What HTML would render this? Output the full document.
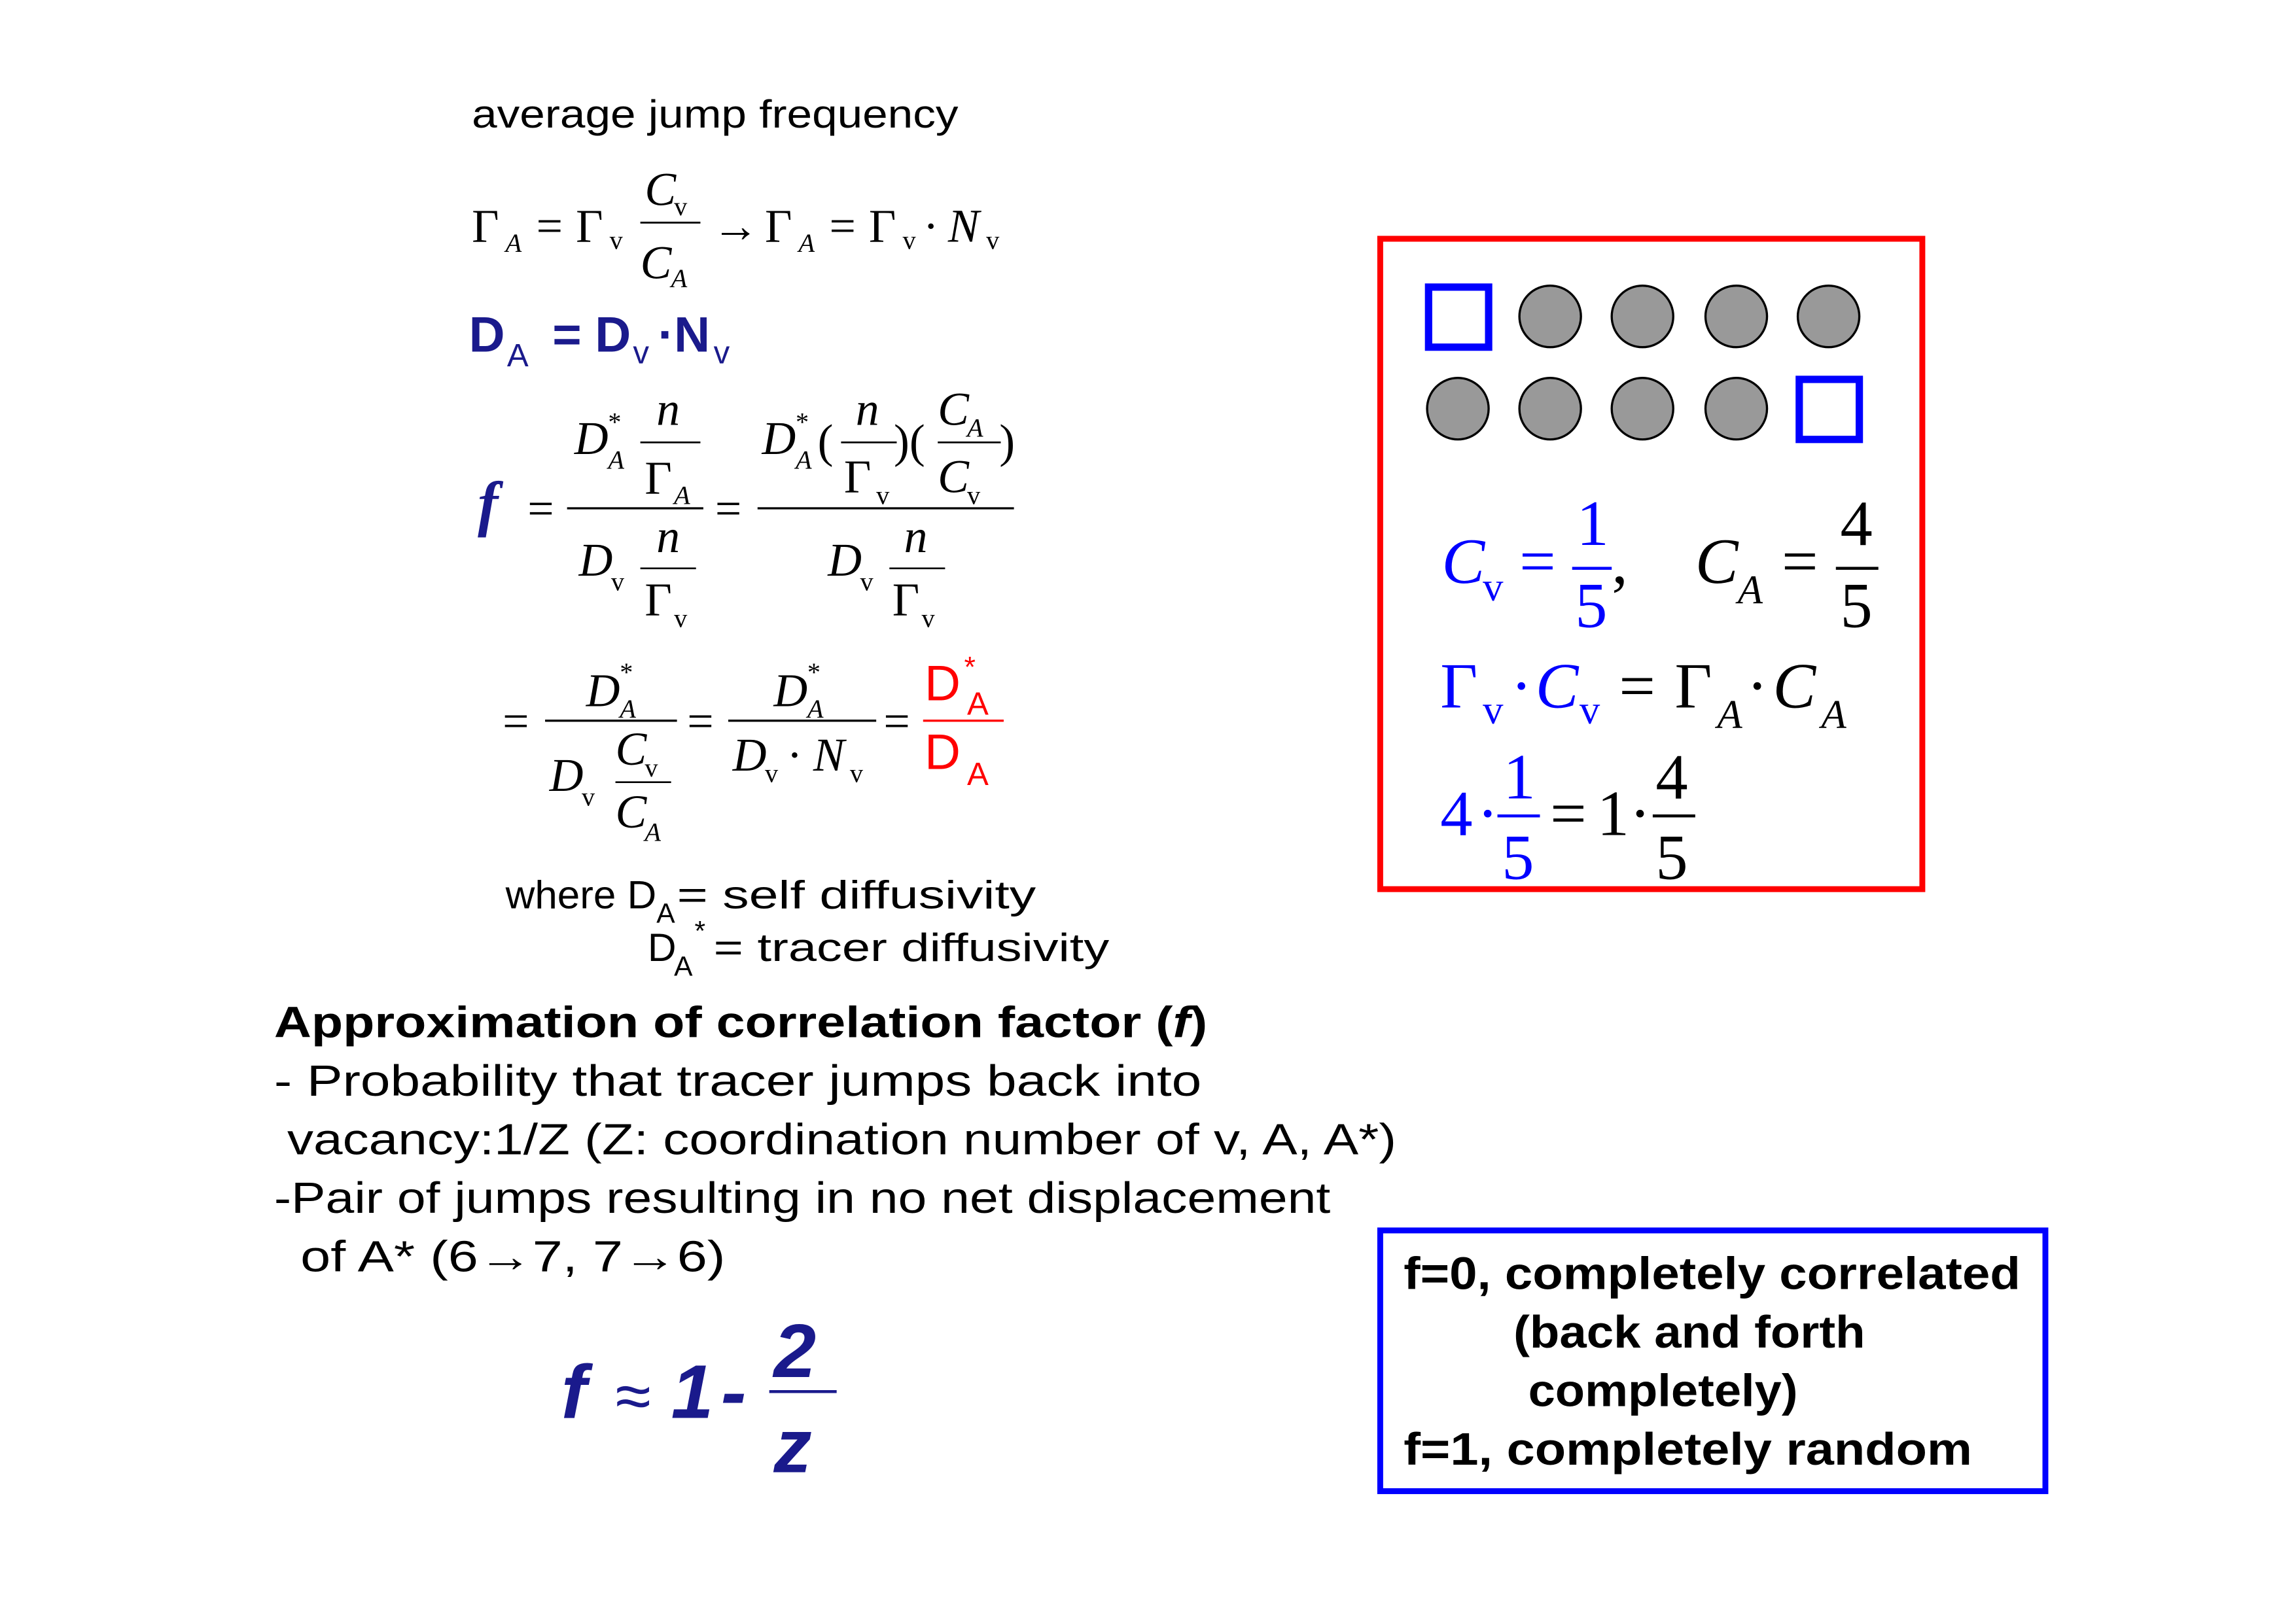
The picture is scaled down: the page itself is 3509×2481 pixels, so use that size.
<!DOCTYPE html>
<html><head><meta charset="utf-8"><style>
html,body{margin:0;padding:0;background:#fff;}
svg{display:block;}
.s{font-family:"Liberation Sans",sans-serif;}
.t{font-family:"Liberation Serif",serif;}
</style></head><body>
<svg width="3509" height="2481" viewBox="0 0 1567 1108" xmlns="http://www.w3.org/2000/svg">
<rect width="1567" height="1108" fill="#fff"/>
<g class="s" font-size="27" fill="#000">
<text x="322" y="87" textLength="332" lengthAdjust="spacingAndGlyphs">average jump frequency</text>
</g>
<g class="t" font-size="32" fill="#000">
<text x="322" y="165">Γ</text><text x="345" y="172" font-size="18" font-style="italic">A</text>
<text x="366" y="165">=</text>
<text x="393" y="165">Γ</text><text x="416" y="170" font-size="18">v</text>
<text x="440" y="140" font-style="italic">C</text><text x="460" y="147" font-size="18">v</text>
<line x1="437" y1="152" x2="478" y2="152" stroke="#000" stroke-width="1.3"/>
<text x="437" y="190" font-style="italic">C</text><text x="458" y="196" font-size="18" font-style="italic">A</text>
<text x="486" y="165">→</text>
<text x="522" y="165">Γ</text><text x="545" y="172" font-size="18" font-style="italic">A</text>
<text x="566" y="165">=</text>
<text x="593" y="165">Γ</text><text x="616" y="170" font-size="18">v</text>
<text x="630" y="165">·</text>
<text x="647" y="165" font-style="italic">N</text><text x="673" y="170" font-size="18">v</text>
</g>
<g class="s" fill="#1a1a8c" font-size="34" font-weight="bold">
<text x="320" y="240">D</text><text x="346" y="250" font-size="22" font-weight="normal">A</text>
<text x="377" y="240">=</text>
<text x="406" y="240">D</text><text x="432" y="248" font-size="22" font-weight="normal">v</text>
<text x="449" y="240">·</text>
<text x="460" y="240">N</text><text x="487" y="248" font-size="22" font-weight="normal">v</text>
</g>
<text x="326" y="358" class="t" font-size="42" font-style="italic" font-weight="bold" fill="#1a1a8c">f</text>
<g class="t" font-size="32" fill="#000">
<text x="360" y="358">=</text>
<line x1="387" y1="347" x2="480" y2="347" stroke="#000" stroke-width="1.5"/>
<text x="392" y="310" font-style="italic">D</text><text x="415" y="294" font-size="18">*</text><text x="415" y="320" font-size="18" font-style="italic">A</text>
<text x="448" y="290" font-style="italic">n</text>
<line x1="437" y1="302" x2="478" y2="302" stroke="#000" stroke-width="1.2"/>
<text x="440" y="337">Γ</text><text x="460" y="344" font-size="18" font-style="italic">A</text>
<text x="395" y="393" font-style="italic">D</text><text x="417" y="403" font-size="18">v</text>
<text x="448" y="377" font-style="italic">n</text>
<line x1="437" y1="388" x2="475" y2="388" stroke="#000" stroke-width="1.2"/>
<text x="440" y="420">Γ</text><text x="460" y="428" font-size="18">v</text>
<text x="488" y="358">=</text>
<line x1="517" y1="347" x2="692" y2="347" stroke="#000" stroke-width="1.5"/>
<text x="520" y="310" font-style="italic">D</text><text x="543" y="294" font-size="18">*</text><text x="543" y="320" font-size="18" font-style="italic">A</text>
<text x="558" y="312">(</text>
<text x="584" y="290" font-style="italic">n</text>
<line x1="574" y1="302" x2="612" y2="302" stroke="#000" stroke-width="1.2"/>
<text x="576" y="336">Γ</text><text x="598" y="344" font-size="18">v</text>
<text x="610" y="312">)(</text>
<text x="640" y="290" font-style="italic">C</text><text x="660" y="298" font-size="18" font-style="italic">A</text>
<line x1="640" y1="302" x2="683" y2="302" stroke="#000" stroke-width="1.2"/>
<text x="640" y="336" font-style="italic">C</text><text x="660" y="344" font-size="18">v</text>
<text x="682" y="312">)</text>
<text x="565" y="393" font-style="italic">D</text><text x="587" y="403" font-size="18">v</text>
<text x="617" y="377" font-style="italic">n</text>
<line x1="607" y1="388" x2="645" y2="388" stroke="#000" stroke-width="1.2"/>
<text x="609" y="420">Γ</text><text x="629" y="428" font-size="18">v</text>
<text x="343" y="503">=</text>
<line x1="372" y1="492" x2="462" y2="492" stroke="#000" stroke-width="1.5"/>
<text x="400" y="482" font-style="italic">D</text><text x="423" y="465" font-size="18">*</text><text x="423" y="490" font-size="18" font-style="italic">A</text>
<text x="375" y="540" font-style="italic">D</text><text x="397" y="550" font-size="18">v</text>
<text x="420" y="522" font-style="italic">C</text><text x="440" y="530" font-size="18">v</text>
<line x1="420" y1="534" x2="458" y2="534" stroke="#000" stroke-width="1.2"/>
<text x="420" y="565" font-style="italic">C</text><text x="440" y="574" font-size="18" font-style="italic">A</text>
<text x="469" y="503">=</text>
<line x1="497" y1="492" x2="598" y2="492" stroke="#000" stroke-width="1.5"/>
<text x="528" y="482" font-style="italic">D</text><text x="551" y="465" font-size="18">*</text><text x="551" y="490" font-size="18" font-style="italic">A</text>
<text x="500" y="526" font-style="italic">D</text><text x="522" y="534" font-size="18">v</text>
<text x="537" y="526">·</text>
<text x="555" y="526" font-style="italic">N</text><text x="580" y="534" font-size="18">v</text>
<text x="603" y="503">=</text>
</g>
<g class="s" fill="#ff0000">
<line x1="630" y1="492" x2="685" y2="492" stroke="#ff0000" stroke-width="1.5"/>
<text x="631" y="478" font-size="34">D</text><text x="658" y="462" font-size="20">*</text><text x="660" y="488" font-size="22">A</text>
<text x="631" y="525" font-size="34">D</text><text x="660" y="536" font-size="22">A</text>
</g>
<g class="s" font-size="27" fill="#000">
<text x="345" y="620" textLength="103" lengthAdjust="spacingAndGlyphs">where D</text><text x="448" y="630" font-size="19">A</text><text x="462" y="620" textLength="245" lengthAdjust="spacingAndGlyphs">= self diffusivity</text>
<text x="442" y="656">D</text><text x="460" y="666" font-size="19">A</text><text x="474" y="642" font-size="19">*</text><text x="487" y="656" textLength="270" lengthAdjust="spacingAndGlyphs">= tracer diffusivity</text>
</g>
<g class="s" font-size="30" fill="#000">
<text x="187" y="708" font-weight="bold" textLength="637" lengthAdjust="spacingAndGlyphs">Approximation of correlation factor (<tspan font-style="italic">f</tspan>)</text>
<text x="187" y="748" textLength="633" lengthAdjust="spacingAndGlyphs">- Probability that tracer jumps back into</text>
<text x="196" y="788" textLength="757" lengthAdjust="spacingAndGlyphs">vacancy:1/Z (Z: coordination number of v, A, A*)</text>
<text x="187" y="828" textLength="721" lengthAdjust="spacingAndGlyphs">-Pair of jumps resulting in no net displacement</text>
<text x="205" y="868" textLength="290" lengthAdjust="spacingAndGlyphs">of A* (6→7, 7→6)</text>
</g>
<g class="s" fill="#1a1a8c" font-weight="bold" font-style="italic" font-size="52">
<text x="383" y="968">f</text>
<text x="420" y="968" font-weight="normal" font-style="normal" font-size="44">≈</text>
<text x="458" y="968">1</text>
<text x="492" y="968">-</text>
<text x="528" y="940">2</text>
<line x1="525" y1="950" x2="571" y2="950" stroke="#1a1a8c" stroke-width="2"/>
<text x="528" y="1005">z</text>
</g>
<rect x="942" y="163" width="370" height="444" fill="none" stroke="#ff0000" stroke-width="4"/>
<g stroke="#0000ff" stroke-width="5" fill="none">
<rect x="975" y="196" width="41" height="41"/>
<rect x="1228" y="259" width="41" height="41"/>
</g>
<g fill="#999" stroke="#000" stroke-width="1.5">
<circle cx="1058" cy="216" r="21"/><circle cx="1121" cy="216" r="21"/><circle cx="1185" cy="216" r="21"/><circle cx="1248" cy="216" r="21"/>
<circle cx="995" cy="279" r="21"/><circle cx="1058" cy="279" r="21"/><circle cx="1121" cy="279" r="21"/><circle cx="1185" cy="279" r="21"/>
</g>
<g class="t" font-size="44">
<g fill="#0000ff">
<text x="984" y="398" font-style="italic">C</text><text x="1012" y="410" font-size="28">v</text>
<text x="1037" y="398">=</text>
<text x="1076" y="372">1</text>
<line x1="1073" y1="388" x2="1100" y2="388" stroke="#0000ff" stroke-width="2"/>
<text x="1075" y="428">5</text>
</g>
<text x="1100" y="398">,</text>
<text x="1157" y="398" font-style="italic">C</text><text x="1186" y="412" font-size="28" font-style="italic">A</text>
<text x="1216" y="398">=</text>
<text x="1256" y="372">4</text>
<line x1="1253" y1="388" x2="1282" y2="388" stroke="#000" stroke-width="2"/>
<text x="1256" y="428">5</text>
<g fill="#0000ff">
<text x="983" y="483">Γ</text><text x="1012" y="494" font-size="28">v</text>
<text x="1031" y="483">·</text>
<text x="1048" y="483" font-style="italic">C</text><text x="1078" y="494" font-size="28">v</text>
</g>
<text x="1105" y="483">=</text>
<text x="1143" y="483">Γ</text><text x="1172" y="497" font-size="28" font-style="italic">A</text>
<text x="1192" y="483">·</text>
<text x="1210" y="483" font-style="italic">C</text><text x="1243" y="497" font-size="28" font-style="italic">A</text>
<g fill="#0000ff">
<text x="983" y="570">4</text>
<text x="1008" y="570">·</text>
<text x="1026" y="545">1</text>
<line x1="1022" y1="557" x2="1051" y2="557" stroke="#0000ff" stroke-width="2"/>
<text x="1025" y="600">5</text>
</g>
<text x="1058" y="570">=</text>
<text x="1090" y="570">1</text>
<text x="1112" y="570">·</text>
<text x="1130" y="545">4</text>
<line x1="1128" y1="557" x2="1157" y2="557" stroke="#000" stroke-width="2"/>
<text x="1130" y="600">5</text>
</g>
<rect x="942" y="840" width="454" height="178" fill="none" stroke="#0000ff" stroke-width="4"/>
<g class="s" font-size="31" font-weight="bold" fill="#000">
<text x="958" y="880" textLength="421" lengthAdjust="spacingAndGlyphs">f=0, completely correlated</text>
<text x="1033" y="920" textLength="240" lengthAdjust="spacingAndGlyphs">(back and forth</text>
<text x="1043" y="960" textLength="184" lengthAdjust="spacingAndGlyphs">completely)</text>
<text x="958" y="1000" textLength="388" lengthAdjust="spacingAndGlyphs">f=1, completely random</text>
</g>
</svg>
</body></html>
